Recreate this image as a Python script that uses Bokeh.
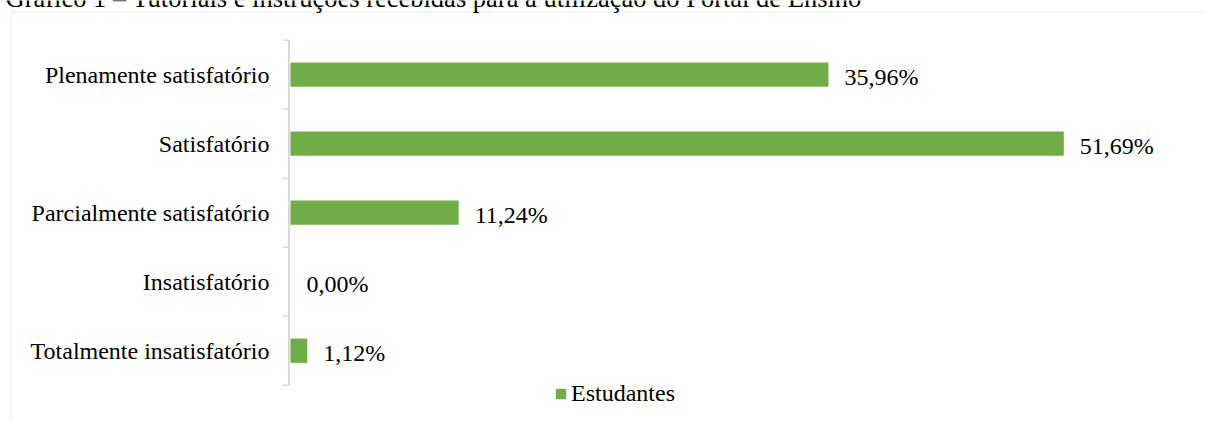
from bokeh.plotting import figure
from bokeh.models import Range1d, Label, BoxAnnotation, ColumnDataSource
from bokeh.core.properties import value
from bokeh.embed import file_html
from bokeh.resources import INLINE

# ---- data ----
title_text = "Gráfico 1 – Tutoriais e instruções recebidas para a utilização do Portal de Ensino"
categories = ["Totalmente insatisfatório", "Insatisfatório", "Parcialmente satisfatório",
              "Satisfatório", "Plenamente satisfatório"]
values = [1.12, 0.00, 11.24, 51.69, 35.96]
series_name = "Estudantes"

# ---- style / layout ----
FONT = "Liberation Serif"
GREEN = "#70AD47"
GRAY = "#D9D9D9"
W, H = 1205, 421
ZERO_PX = 290.0        # pixel where x = 0
PX_X = 14.96           # pixels per percentage point
TOP_PX = 39.7          # pixel of the upper category boundary
BAND = 69.0            # pixels per category band
n = len(categories)


def xd(px):            # canvas pixel -> x data
    return (px - ZERO_PX) / PX_X


def yd(py):            # canvas pixel (from top) -> y data
    return (n - 0.5) - (py - TOP_PX) / BAND


ypos = list(range(n))
labels = [f"{v:.2f}".replace(".", ",") + "%" for v in values]
src = ColumnDataSource(dict(y=ypos, v=values, lab=labels, cat=categories))

p = figure(width=W, height=H, output_backend="svg", toolbar_location=None,
           x_range=Range1d(xd(0), xd(W)), y_range=Range1d(yd(H), yd(0)),
           min_border_left=0, min_border_right=0, min_border_top=0, min_border_bottom=0)
p.outline_line_color = None
p.background_fill_color = "white"
p.border_fill_color = "white"
p.grid.visible = False
p.axis.visible = False

# chart frame border (only top/left fall inside the picture)
p.add_layout(BoxAnnotation(left=xd(11), right=xd(W + 20), top=yd(11.5), bottom=yd(H + 20),
                           fill_alpha=0, line_color=GRAY, line_width=1.5))

# cropped caption above the chart
p.add_layout(Label(x=xd(5), y=yd(-3), text=title_text, text_font=FONT,
                   text_font_size="26.5px", text_color="black", text_baseline="alphabetic"))

# bars
p.hbar(y="y", left=0, right="v", height=0.352, source=src, fill_color=GREEN,
       line_color=None, legend_label=series_name)

# category axis: line and boundary ticks
bounds = [i - 0.5 for i in range(n + 1)]
ax_x = xd(ZERO_PX - 1.5)
p.segment(x0=[ax_x], y0=[bounds[0]], x1=[ax_x], y1=[bounds[-1]], line_color=GRAY, line_width=2)
p.segment(x0=[xd(ZERO_PX - 8)] * len(bounds), y0=bounds, x1=[ax_x] * len(bounds), y1=bounds,
          line_color=GRAY, line_width=1.5)

# category labels
p.text(x=0, y="y", text="cat", source=src, x_offset=-21, text_align="right",
       text_baseline="middle", text_font=value(FONT), text_font_size="24px", text_color="black")

# value labels
p.text(x="v", y="y", text="lab", source=src, x_offset=16, y_offset=2, text_baseline="middle",
       text_align="left", text_font=value(FONT), text_font_size="24px", text_color="black")

lg = p.legend[0]
lg.location = (554, 14)
lg.orientation = "horizontal"
lg.glyph_width = 13
lg.glyph_height = 13
lg.label_standoff = 4
lg.label_height = 28
lg.padding = 0
lg.margin = 0
lg.border_line_color = None
lg.background_fill_alpha = 0
lg.label_text_font = FONT
lg.label_text_font_size = "24px"
lg.label_text_color = "black"

open("out.html", "w").write(file_html(p, INLINE))
